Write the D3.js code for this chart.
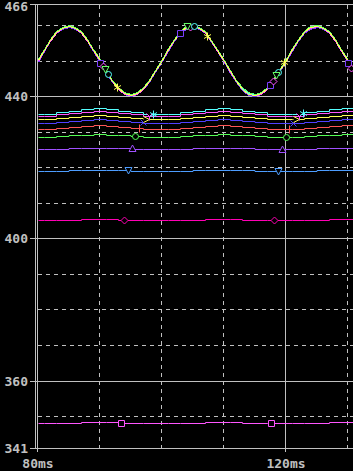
<!DOCTYPE html>
<html>
<head>
<meta charset="utf-8">
<script src="https://cdn.jsdelivr.net/npm/d3@7"></script>
<style>
body { margin: 0; background: #000; }
text { font-family: "DejaVu Sans Mono", monospace; font-weight: bold; font-size: 13px; fill: #c0c0c0; }
</style>
</head>
<body>
<svg id="canvas" width="353" height="471"></svg>
<script>
// tick values / labels
let majorY = [466, 440, 400, 360, 341]
let minorY = [460, 450, 430, 420, 410, 390, 380, 370, 350]
let majorX = [80, 120]
let minorX = [90, 100, 110, 130]
let xLabels = ["80ms", "120ms"]

// sample times (ms)
let topTimes = d3.range(80, 132)
let lowTimes = d3.range(80, 133, 2)

// upper group (sine ~50Hz)
let topViolet = [449.8, 452.8, 455.5, 457.7, 459.0, 459.5, 459.0, 457.7, 455.5, 452.8, 449.8, 446.8, 444.1, 442.0, 440.6, 440.1, 440.6, 442.0, 444.1, 446.8,
    449.9, 452.9, 455.6, 457.8, 459.1, 459.5, 459.0, 457.7, 455.4, 452.7, 449.7, 446.7, 444.0, 441.9, 440.5, 440.1, 440.6, 442.0, 444.2, 446.9,
    449.9, 452.9, 455.6, 457.8, 459.1, 459.6, 459.0, 457.7, 455.5, 452.7, 449.7, 446.7]
let topPink = [450.0, 453.0, 455.7, 457.9, 459.2, 459.7, 459.2, 457.9, 455.7, 453.0, 450.0, 447.0, 444.3, 442.2, 440.8, 440.3, 440.8, 442.2, 444.3, 447.0,
    450.1, 453.1, 455.8, 458.0, 459.3, 459.7, 459.2, 457.9, 455.6, 452.9, 449.9, 446.9, 444.2, 442.1, 440.7, 440.3, 440.8, 442.2, 444.4, 447.1,
    450.1, 453.1, 455.8, 458.0, 459.3, 459.8, 459.2, 457.9, 455.7, 452.9, 449.9, 446.9]
let topCyan = [450.3, 453.3, 456.0, 458.2, 459.5, 460.0, 459.5, 458.2, 456.0, 453.3, 450.3, 447.3, 444.6, 442.5, 441.1, 440.6, 441.1, 442.5, 444.6, 447.3,
    450.4, 453.4, 456.1, 458.3, 459.6, 460.0, 459.5, 458.2, 455.9, 453.2, 450.2, 447.2, 444.5, 442.4, 441.0, 440.6, 441.1, 442.5, 444.7, 447.4,
    450.4, 453.4, 456.1, 458.3, 459.6, 460.1, 459.5, 458.2, 456.0, 453.2, 450.2, 447.2]
let topGreen = [450.4, 453.4, 456.1, 458.3, 459.6, 460.1, 459.6, 458.3, 456.1, 453.4, 450.4, 447.4, 444.7, 442.6, 441.2, 440.7, 441.2, 442.6, 444.7, 447.4,
    450.5, 453.5, 456.2, 458.4, 459.7, 460.1, 459.6, 458.3, 456.0, 453.3, 450.3, 447.3, 444.6, 442.5, 441.1, 440.7, 441.2, 442.6, 444.8, 447.5,
    450.5, 453.5, 456.2, 458.4, 459.7, 460.2, 459.6, 458.3, 456.1, 453.3, 450.3, 447.3]
let topYellow = [450.1, 453.1, 455.8, 458.0, 459.3, 459.8, 459.3, 458.0, 455.8, 453.1, 450.1, 447.1, 444.4, 442.3, 440.9, 440.4, 440.9, 442.3, 444.4, 447.1,
    450.2, 453.2, 455.9, 458.1, 459.4, 459.8, 459.3, 458.0, 455.7, 453.0, 450.0, 447.0, 444.3, 442.2, 440.8, 440.4, 440.9, 442.3, 444.5, 447.2,
    450.2, 453.2, 455.9, 458.1, 459.4, 459.9, 459.3, 458.0, 455.8, 453.0, 450.0, 447.0]

// lower group
let lowCyan = [434.9, 435.1, 435.5, 436.0, 436.4, 436.6, 436.4, 436.0, 435.5, 435.1, 434.9, 435.1, 435.5, 436.0, 436.4, 436.6, 436.4, 436.0, 435.5, 435.1, 434.9, 435.1, 435.5, 436.0, 436.4, 436.6, 436.4]
let lowPink = [434.4, 434.5, 434.9, 435.3, 435.7, 435.8, 435.7, 435.3, 434.9, 434.5, 434.4, 434.5, 434.9, 435.3, 435.7, 435.8, 435.7, 435.3, 434.9, 434.5, 434.4, 434.5, 434.9, 435.3, 435.7, 435.8, 435.7]
let lowYellow = [433.5, 433.6, 433.9, 434.3, 434.6, 434.7, 434.6, 434.3, 433.9, 433.6, 433.5, 433.6, 433.9, 434.3, 434.6, 434.7, 434.6, 434.3, 433.9, 433.6, 433.5, 433.6, 433.9, 434.3, 434.6, 434.7, 434.6]
let lowBlue = [432.4, 432.5, 432.8, 433.1, 433.4, 433.5, 433.4, 433.1, 432.8, 432.5, 432.4, 432.5, 432.8, 433.1, 433.4, 433.5, 433.4, 433.1, 432.8, 432.5, 432.4, 432.5, 432.8, 433.1, 433.4, 433.5, 433.4]
let lowRed = [430.7, 430.8, 431.1, 431.4, 431.7, 431.8, 431.7, 431.4, 431.1, 430.8, 430.7, 430.8, 431.1, 431.4, 431.7, 431.8, 431.7, 431.4, 431.1, 430.8, 430.7, 430.8, 431.1, 431.4, 431.7, 431.8, 431.7]
let lowGreen = [428.5, 428.6, 428.8, 429.0, 429.2, 429.3, 429.2, 429.0, 428.8, 428.6, 428.5, 428.6, 428.8, 429.0, 429.2, 429.3, 429.2, 429.0, 428.8, 428.6, 428.5, 428.6, 428.8, 429.0, 429.2, 429.3, 429.2]
let lowViolet = [425.1, 425.2, 425.3, 425.4, 425.5, 425.6, 425.5, 425.4, 425.3, 425.2, 425.1, 425.2, 425.3, 425.4, 425.5, 425.6, 425.5, 425.4, 425.3, 425.2, 425.1, 425.2, 425.3, 425.4, 425.5, 425.6, 425.5]
let lowSky = [418.9, 419.0, 419.1, 419.2, 419.3, 419.4, 419.3, 419.2, 419.1, 419.0, 418.9, 419.0, 419.1, 419.2, 419.3, 419.4, 419.3, 419.2, 419.1, 419.0, 418.9, 419.0, 419.1, 419.2, 419.3, 419.4, 419.3]
let lowMagenta = [405.1, 405.1, 405.2, 405.3, 405.4, 405.4, 405.4, 405.3, 405.2, 405.1, 405.1, 405.1, 405.2, 405.3, 405.4, 405.4, 405.4, 405.3, 405.2, 405.1, 405.1, 405.1, 405.2, 405.3, 405.4, 405.4, 405.4]
let lowBottom = [347.9, 347.9, 348.0, 348.1, 348.2, 348.2, 348.2, 348.1, 348.0, 347.9, 347.9, 347.9, 348.0, 348.1, 348.2, 348.2, 348.2, 348.1, 348.0, 347.9, 347.9, 347.9, 348.0, 348.1, 348.2, 348.2, 348.2]

let traces = [
    {times: topTimes, vals: topViolet, color: "#7a3cff", mark: "square", marks: [90.1, 103.0, 117.5, 130.1]},
    {times: topTimes, vals: topPink, color: "#ff55ff", mark: "diamond", marks: [90.5, 104.6, 118.0, 130.6]},
    {times: topTimes, vals: topCyan, color: "#55ffff", mark: "circle", marks: [91.4, 105.3, 118.8]},
    {times: topTimes, vals: topGreen, color: "#66ff66", mark: "triDown", marks: [90.9, 104.1, 118.4]},
    {times: topTimes, vals: topYellow, color: "#ffff55", mark: "star", marks: [92.9, 107.4, 119.8]},
    {times: lowTimes, vals: lowBottom, color: "#ff55ff", mark: "square", marks: [93.4, 117.6]},
    {times: lowTimes, vals: lowMagenta, color: "#ff00b4", mark: "diamond", marks: [94.0, 118.2]},
    {times: lowTimes, vals: lowSky, color: "#4d9dff", mark: "triDown", marks: [94.6, 118.8]},
    {times: lowTimes, vals: lowViolet, color: "#a050ff", mark: "triUp", marks: [95.2, 119.4]},
    {times: lowTimes, vals: lowGreen, color: "#55ff55", mark: "circle", marks: [95.8, 120.0]},
    {times: lowTimes, vals: lowRed, color: "#ff5555", mark: "plus", marks: [96.4, 120.6]},
    {times: lowTimes, vals: lowBlue, color: "#5040ff", mark: "cross", marks: [97.0, 121.2]},
    {times: lowTimes, vals: lowYellow, color: "#ffff55", mark: "chevron", marks: [97.5, 121.7]},
    {times: lowTimes, vals: lowPink, color: "#ff55ff", mark: "wye", marks: [98.0, 122.2]},
    {times: lowTimes, vals: lowCyan, color: "#55ffff", mark: "star", marks: [98.7, 122.9]}
]

let markPaths = {
    square: "M-3,-3h6v6h-6z",
    diamond: "M0,-3.5L3.5,0L0,3.5L-3.5,0Z",
    triDown: "M-3.5,-3L3.5,-3L0,3.5Z",
    triUp: "M0,-3.5L3.5,3L-3.5,3Z",
    circle: "M3,0A3,3 0 1,1 -3,0A3,3 0 1,1 3,0",
    plus: "M0,-4V4M-3,0H3",
    cross: "M-3,-3L3,3M3,-3L-3,3",
    chevron: "M-3,-3L3,0L-3,3",
    wye: "M-3,-3L0,0L3,-3M0,0V4",
    star: "M0,-4V4M-3.5,-2L3.5,2M3.5,-2L-3.5,2"
}

let canvas = d3.select("#canvas")
let grey = "#c0c0c0"

let x = d3.scaleLinear().domain([80, 120]).range([37.5, 285.5])
let y = d3.scaleLinear().domain([341, 466]).range([448.5, 4.5])
let snap = v => Math.round(v - 0.5) + 0.5

let valueAt = (times, vals, t) => {
    let i = d3.bisectRight(times, t) - 1
    i = Math.max(0, Math.min(i, times.length - 2))
    let f = (t - times[i]) / (times[i + 1] - times[i])
    return vals[i] + f * (vals[i + 1] - vals[i])
}

canvas.append("rect").attr("width", 353).attr("height", 471).attr("fill", "#000")

canvas.append("clipPath").attr("id", "plot")
    .append("rect").attr("x", 36).attr("y", 4).attr("width", 317).attr("height", 445)

let grid = canvas.append("g").attr("shape-rendering", "crispEdges")

grid.selectAll(".minY").data(minorY).enter().append("line")
    .attr("x1", 38).attr("x2", 353)
    .attr("y1", d => snap(y(d))).attr("y2", d => snap(y(d)))
    .attr("stroke", grey).attr("stroke-dasharray", "4,4")

grid.selectAll(".minX").data(minorX).enter().append("line")
    .attr("x1", d => snap(x(d))).attr("x2", d => snap(x(d)))
    .attr("y1", 5).attr("y2", 448)
    .attr("stroke", grey).attr("stroke-dasharray", "4,4")

grid.selectAll(".majY").data(majorY).enter().append("line")
    .attr("x1", 30).attr("x2", 353)
    .attr("y1", d => snap(y(d))).attr("y2", d => snap(y(d)))
    .attr("stroke", grey)

grid.selectAll(".majX").data(majorX).enter().append("line")
    .attr("x1", d => snap(x(d))).attr("x2", d => snap(x(d)))
    .attr("y1", 4).attr("y2", 452)
    .attr("stroke", grey)

// y axis line
grid.append("line")
    .attr("x1", 35.5).attr("x2", 35.5).attr("y1", 4).attr("y2", 449)
    .attr("stroke", grey)

canvas.selectAll(".ylab").data(majorY).enter().append("text")
    .attr("x", 28).attr("y", d => Math.max(y(d), 6))
    .attr("text-anchor", "end").attr("dominant-baseline", "central")
    .text(d => d)

canvas.selectAll(".xlab").data(majorX).enter().append("text")
    .attr("x", d => x(d) + 0.5).attr("y", 468)
    .attr("text-anchor", "middle")
    .text((d, i) => xLabels[i])

let plot = canvas.append("g").attr("clip-path", "url(#plot)")

// snap to pixel rows; the slow traces are drawn as steps like the scope output
let topLine = d3.line().x(d => Math.round(x(d[0])) + 0.5).y(d => snap(y(d[1])))
let lowLine = d3.line().x(d => Math.round(x(d[0])) + 0.5).y(d => snap(y(d[1]))).curve(d3.curveStep)

traces.forEach(tr => {
    let pts = tr.times.map((t, i) => [t, tr.vals[i]])
    let isTop = tr.times === topTimes
    plot.append("path")
        .attr("d", isTop ? topLine(pts) : lowLine(pts))
        .attr("fill", "none")
        .attr("stroke", tr.color)
        .attr("stroke-width", 1)
        .attr("shape-rendering", isTop ? "crispEdges" : "auto")
})

traces.forEach(tr => {
    plot.selectAll(null).data(tr.marks).enter().append("path")
        .attr("transform", t => "translate(" + (Math.round(x(t)) + 0.5) + "," + snap(y(valueAt(tr.times, tr.vals, t))) + ")")
        .attr("d", markPaths[tr.mark])
        .attr("fill", "#000")
        .attr("stroke", tr.color)
        .attr("stroke-width", 1)
})
</script>
</body>
</html>
